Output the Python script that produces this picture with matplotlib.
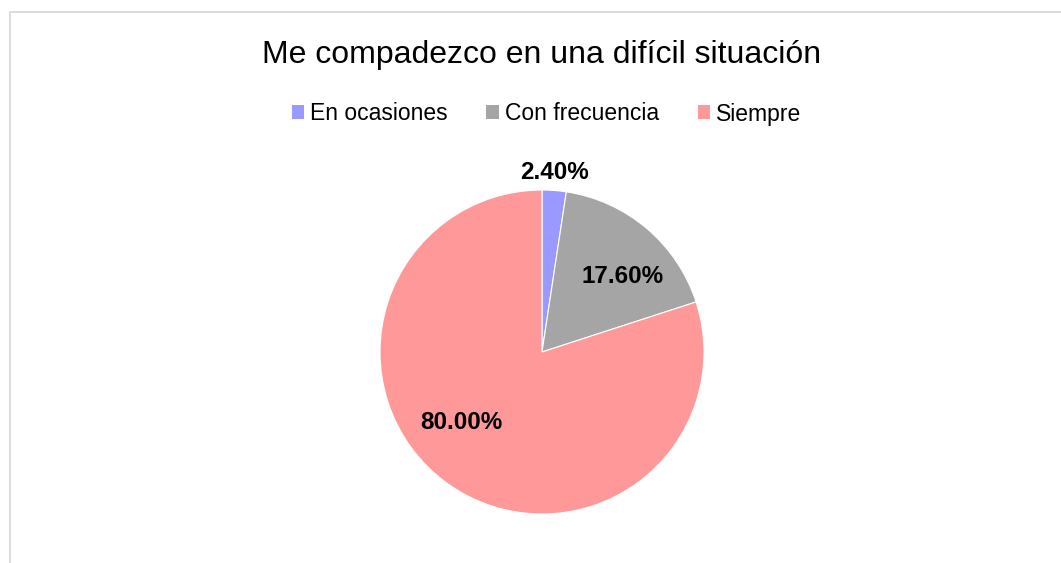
import numpy as np
import matplotlib
matplotlib.use("Agg")
import matplotlib.pyplot as plt
from matplotlib.patches import Rectangle, Patch

categories = ["En ocasiones", "Con frecuencia", "Siempre"]
values = [2.40, 17.60, 80.00]
colors = ["#9999FF", "#A5A5A5", "#FF9999"]
title = "Me compadezco en una difícil situación"
# label anchor positions (fraction of radius) as in the reference layout
label_pos = [(0.077, 1.11), (0.497, 0.466), (-0.497, -0.435)]

plt.rcParams['font.family'] = ['Liberation Sans', 'DejaVu Sans']

W, H = 1061, 563
fig = plt.figure(figsize=(W / 100, H / 100), dpi=100)

# chart frame
fig.patches.append(Rectangle((9.5 / W, -0.1), 1.2, 1 - 12.5 / H + 0.1,
                             transform=fig.transFigure, fill=False,
                             edgecolor="#D9D9D9", linewidth=1.3))

cx, cy, r = 542, 563 - 352, 162
ax = fig.add_axes([(cx - r) / W, (cy - r) / H, 2 * r / W, 2 * r / H])
wedges, texts, autotexts = ax.pie(values, colors=colors, startangle=90,
                                  counterclock=False, radius=1,
                                  autopct=lambda p: f"{p:.2f}%",
                                  pctdistance=0.68,
                                  wedgeprops=dict(edgecolor="white", linewidth=0.8),
                                  textprops=dict(fontsize=17.5, fontweight="bold", color="black"))
ax.set_xlim(-1, 1)
ax.set_ylim(-1, 1)
ax.set_aspect("equal")
ax.axis("off")

for t, p in zip(autotexts, label_pos):
    t.set_position(p)

fig.text(541.5 / W, 1 - 63 / H, title, ha="center", va="baseline", fontsize=23)

handles = [Patch(facecolor=c, edgecolor="none") for c in colors]
fig.legend(handles, categories, loc="center", bbox_to_anchor=(546.5 / W, 1 - 114 / H),
           ncol=3, frameon=False, fontsize=16.5, handlelength=0.55, handleheight=0.55,
           handletextpad=0.25, columnspacing=1.7)

fig.savefig("out.png", dpi=100)
